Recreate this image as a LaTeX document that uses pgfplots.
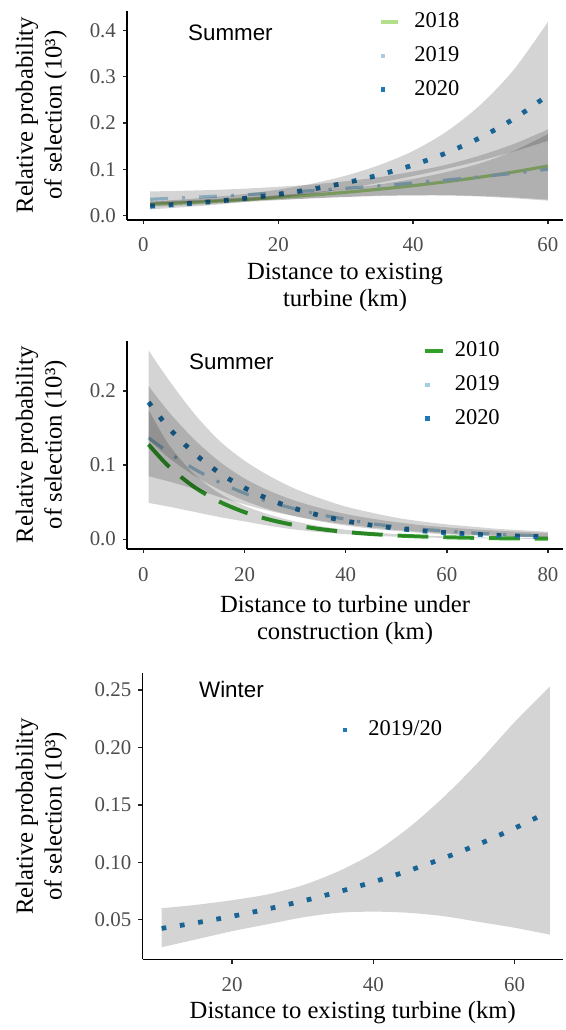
\documentclass[border=0pt]{standalone}
\usepackage{fontspec}
\setmainfont{Liberation Serif}
\newfontfamily\arialfont{Liberation Sans}
\usepackage{pgfplots}
\pgfplotsset{compat=1.18}
\usepgfplotslibrary{fillbetween}
\definecolor{cA}{HTML}{B2DF8A}
\definecolor{cB}{HTML}{A6CEE3}
\definecolor{cC}{HTML}{1F78B4}
\definecolor{cD}{HTML}{33A02C}
\definecolor{tickgray}{HTML}{4D4D4D}

\pgfplotstableread{
x   l18    l19    l20    u18   lo18  u19   lo19  u20    lo20
1   0.0240 0.0350 0.0200 0.030 0.019 0.052 0.024 0.0300 0.0133
5   0.0266 0.0376 0.0238 0.032 0.021 0.053 0.026 0.0338 0.0168
10  0.0301 0.0411 0.0296 0.035 0.025 0.055 0.029 0.0394 0.0223
15  0.0342 0.0449 0.0368 0.039 0.029 0.058 0.032 0.0464 0.0292
20  0.0388 0.0491 0.0457 0.044 0.033 0.062 0.034 0.0558 0.0375
25  0.0441 0.0537 0.0568 0.050 0.037 0.067 0.037 0.0687 0.0469
30  0.0500 0.0587 0.0706 0.058 0.040 0.074 0.040 0.0861 0.0579
35  0.0568 0.0641 0.0878 0.067 0.043 0.083 0.042 0.1089 0.0708
40  0.0644 0.0701 0.1090 0.079 0.044 0.095 0.043 0.1395 0.0852
45  0.0732 0.0766 0.1356 0.094 0.044 0.110 0.043 0.1817 0.1012
50  0.0830 0.0837 0.1686 0.113 0.042 0.130 0.041 0.2394 0.1187
55  0.0942 0.0915 0.2095 0.140 0.039 0.155 0.037 0.3163 0.1387
60  0.1070 0.1000 0.2600 0.176 0.034 0.186 0.032 0.4186 0.1615
}\tabA

\pgfplotstableread{
x   l10     l19    l20    u10    lo10   u19    lo19   u20   lo20
1   0.1280  0.1370 0.1850 0.1750 0.0490 0.2070 0.0850 0.255 0.1340
5   0.0983  0.1170 0.1504 0.1280 0.0440 0.1720 0.0780 0.215 0.1100
10  0.0707  0.0950 0.1162 0.0880 0.0370 0.1350 0.0680 0.170 0.0860
15  0.0508  0.0770 0.0897 0.0620 0.0300 0.1050 0.0570 0.133 0.0670
20  0.0365  0.0620 0.0693 0.0450 0.0240 0.0820 0.0470 0.106 0.0520
25  0.0263  0.0500 0.0535 0.0330 0.0180 0.0650 0.0380 0.085 0.0400
30  0.0189  0.0410 0.0413 0.0240 0.0130 0.0520 0.0310 0.068 0.0310
35  0.0136  0.0330 0.0319 0.0175 0.0095 0.0420 0.0250 0.055 0.0240
40  0.0098  0.0270 0.0246 0.0128 0.0068 0.0340 0.0200 0.044 0.0185
45  0.0070  0.0210 0.0190 0.0094 0.0048 0.0280 0.0160 0.036 0.0143
50  0.0050  0.0170 0.0147 0.0068 0.0034 0.0230 0.0125 0.029 0.0110
55  0.0036  0.0135 0.0113 0.0050 0.0024 0.0190 0.0098 0.024 0.0085
60  0.0026  0.0110 0.0088 0.0037 0.0017 0.0160 0.0077 0.020 0.0066
65  0.0019  0.0085 0.0068 0.0027 0.0012 0.0135 0.0060 0.017 0.0051
70  0.0013  0.0067 0.0052 0.0020 0.0008 0.0115 0.0047 0.014 0.0039
75  0.00097 0.0052 0.0040 0.0015 0.0006 0.0098 0.0036 0.012 0.0030
80  0.0007  0.0041 0.0031 0.0011 0.0004 0.0085 0.0028 0.010 0.0023
}\tabB

\pgfplotstableread{
x   up    lo
10  0.060 0.026
15  0.063 0.033
20  0.067 0.040
25  0.072 0.046
30  0.080 0.052
35  0.092 0.056
40  0.108 0.057
45  0.130 0.056
50  0.157 0.053
55  0.188 0.048
60  0.222 0.043
65  0.253 0.037
}\tabC

\pgfplotstableread{
x     line
10    0.0424
15    0.0474
20    0.0530
25    0.0593
30    0.0663
35    0.0742
40    0.0829
45    0.0927
50    0.1037
55    0.1159
60    0.1296
63.8  0.1410
}\tabCline

\pgfplotsset{
  gg/.style={
    set layers,
    scale only axis,
    axis lines=left,
    axis line style={-, line width=0.8pt, black},
    tick align=outside,
    major tick length=2.2pt,
    every tick/.style={line width=0.7pt, black!85},
    tick label style={font=\fontsize{10.5}{12}\selectfont, text=tickgray},
    xticklabel style={yshift=-3.5pt},
    /pgf/number format/assume math mode=true,
    legend style={draw=none, fill=none, inner sep=0pt, outer sep=0pt,
      row sep=8pt, column sep=0pt,
      font=\fontsize{11.3}{13}\selectfont, nodes={inner sep=0pt}},
    legend cell align=left,
  },
  xlab/.style={every axis x label/.style={at={([yshift=-#1]axis description cs:0.5,0)}, anchor=center, align=center, font=\fontsize{12.4}{13.5}\selectfont}},
  ylab/.style={every axis y label/.style={at={([xshift=-#1]axis description cs:0,0.5)}, rotate=90, anchor=center, align=center, font=\fontsize{12.4}{14.5}\selectfont}},
  solidkey/.style 2 args={legend image code/.code={\path[draw=none,fill=none] (0pt,-4pt) rectangle (#2,4pt);
      \draw[line width=1.8pt, #1, solid] (0pt,0pt) -- (9pt,0pt);}},
  sqkey/.style 2 args={legend image code/.code={\path[draw=none,fill=none] (0pt,-4pt) rectangle (#2,4pt);
      \fill[#1, draw=none] (0pt,-1.1pt) rectangle (2.2pt,1.1pt);}},
  band/.style={fill=black, fill opacity=0.17, draw=none, forget plot},
  under/.style={on layer=axis background, forget plot, smooth},
  dotline/.style={under, line width=2.4pt, dash pattern=on 2.4pt off 6.9pt, line cap=butt},
  dotdashline/.style={under, line width=1.6pt, dash pattern=on 9pt off 7pt on 1.6pt off 7pt},
}

\begin{document}
\begin{tikzpicture}
\path (0pt,0pt) rectangle (283pt,515pt);

% ---------------- Panel 1 ----------------
\begin{axis}[gg,
  at={(64pt,404.5pt)}, anchor=south west,
  width=219pt, height=105.15pt,
  xmin=-2.4, xmax=62.2, ymin=-0.00925, ymax=0.443,
  xtick={0,20,40,60}, ytick={0,0.1,0.2,0.3,0.4},
  yticklabel style={/pgf/number format/.cd, fixed, fixed zerofill, precision=1},
  xlabel={Distance to existing\\turbine (km)},
  ylabel={Relative probability\\of selection (10³)},
  xlab=34.25pt, ylab=43.25pt,
  legend style={at={(axis cs:34.9,0.3455)}, anchor=west},
]
\addplot[cA, line width=1.6pt, under] table[x=x, y=l18] {\tabA};
\addplot[cB, dotdashline] table[x=x, y=l19] {\tabA};
\addplot[cC, dotline] table[x=x, y=l20] {\tabA};
\addplot[name path=a1, draw=none, smooth, forget plot] table[x=x, y=u18] {\tabA};
\addplot[name path=a2, draw=none, smooth, forget plot] table[x=x, y=lo18] {\tabA};
\addplot[name path=b1, draw=none, smooth, forget plot] table[x=x, y=u19] {\tabA};
\addplot[name path=b2, draw=none, smooth, forget plot] table[x=x, y=lo19] {\tabA};
\addplot[name path=c1, draw=none, smooth, forget plot] table[x=x, y=u20] {\tabA};
\addplot[name path=c2, draw=none, smooth, forget plot] table[x=x, y=lo20] {\tabA};
\addplot[band] fill between[of=a1 and a2];
\addplot[band] fill between[of=b1 and b2];
\addplot[band] fill between[of=c1 and c2];
\addlegendimage{solidkey={cA}{17pt}}\addlegendentry{2018}
\addlegendimage{sqkey={cB}{17pt}}\addlegendentry{2019}
\addlegendimage{sqkey={cC}{17pt}}\addlegendentry{2020}
\node[font=\arialfont\fontsize{11.25}{13}\selectfont] at (axis cs:12.9,0.395) {Summer};
\end{axis}

% ---------------- Panel 2 ----------------
\begin{axis}[gg,
  at={(64pt,239pt)}, anchor=south west,
  width=219pt, height=104.65pt,
  xmin=-3.2, xmax=82.93, ymin=-0.013, ymax=0.268,
  xtick={0,20,40,60,80}, ytick={0,0.1,0.2},
  yticklabel style={/pgf/number format/.cd, fixed, fixed zerofill, precision=1},
  xlabel={Distance to turbine under\\construction (km)},
  ylabel={Relative probability\\of selection (10³)},
  xlab=36pt, ylab=43.25pt,
  legend style={at={(axis cs:55.4,0.2085)}, anchor=west},
]
\addplot[cD, line width=2pt, under, dash pattern=on 15.5pt off 7.5pt] table[x=x, y=l10] {\tabB};
\addplot[cB, dotdashline] table[x=x, y=l19] {\tabB};
\addplot[cC, dotline] table[x=x, y=l20] {\tabB};
\addplot[name path=a1, draw=none, smooth, forget plot] table[x=x, y=u10] {\tabB};
\addplot[name path=a2, draw=none, smooth, forget plot] table[x=x, y=lo10] {\tabB};
\addplot[name path=b1, draw=none, smooth, forget plot] table[x=x, y=u19] {\tabB};
\addplot[name path=b2, draw=none, smooth, forget plot] table[x=x, y=lo19] {\tabB};
\addplot[name path=c1, draw=none, smooth, forget plot] table[x=x, y=u20] {\tabB};
\addplot[name path=c2, draw=none, smooth, forget plot] table[x=x, y=lo20] {\tabB};
\addplot[band] fill between[of=a1 and a2];
\addplot[band] fill between[of=b1 and b2];
\addplot[band] fill between[of=c1 and c2];
\addlegendimage{solidkey={cD}{14.8pt}}\addlegendentry{2010}
\addlegendimage{sqkey={cB}{14.8pt}}\addlegendentry{2019}
\addlegendimage{sqkey={cC}{14.8pt}}\addlegendentry{2020}
\node[font=\arialfont\fontsize{11.25}{13}\selectfont] at (axis cs:17.4,0.239) {Summer};
\end{axis}

% ---------------- Panel 3 ----------------
\begin{axis}[gg,
  at={(71.75pt,32.5pt)}, anchor=south west,
  width=211.25pt, height=144pt,
  xmin=7.32, xmax=66.83, ymin=0.01537, ymax=0.2647,
  xtick={20,40,60}, ytick={0.05,0.10,0.15,0.20,0.25},
  yticklabel style={/pgf/number format/.cd, fixed, fixed zerofill, precision=2},
  xlabel={Distance to existing turbine (km)},
  ylabel={Relative probability\\of selection (10³)},
  xlab=26.5pt, ylab=51pt,
  legend style={at={(axis cs:35.7,0.2153)}, anchor=west},
]
\addplot[cC, dotline] table[x=x, y=line] {\tabCline};
\addplot[name path=c1, draw=none, smooth, forget plot] table[x=x, y=up] {\tabC};
\addplot[name path=c2, draw=none, smooth, forget plot] table[x=x, y=lo] {\tabC};
\addplot[band] fill between[of=c1 and c2];
\addlegendimage{sqkey={cC}{12.75pt}}\addlegendentry{2019/20}
\node[font=\arialfont\fontsize{11.25}{13}\selectfont] at (axis cs:19.9,0.2506) {Winter};
\end{axis}
\end{tikzpicture}
\end{document}
